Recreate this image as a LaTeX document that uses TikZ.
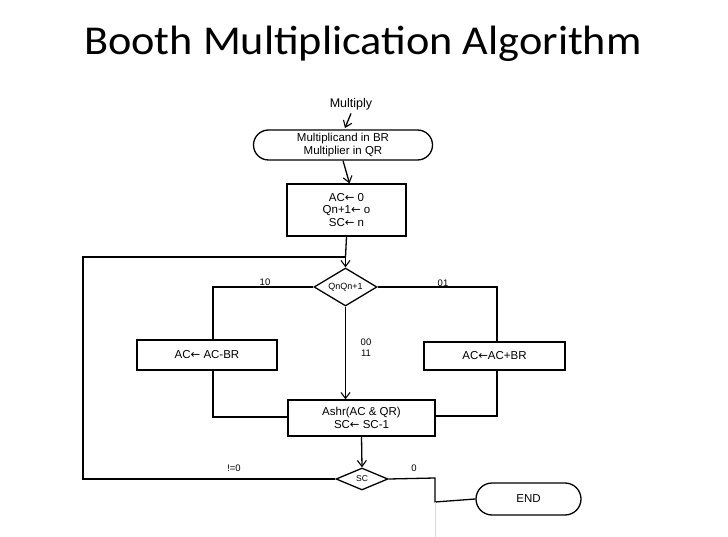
\documentclass[tikz,border=0pt]{standalone}
\usepackage{fontspec}
\usepackage{graphicx}
\setmainfont{Liberation Sans}
\newfontfamily\titlefont{Carlito}
\newfontfamily\arrfont{DejaVu Sans}
\newcommand{\larr}{{\arrfont ←}}
\usetikzlibrary{arrows.meta,shapes.geometric,shapes.misc}
\begin{document}
\begin{tikzpicture}[x=1pt,y=-1pt,
  line width=1.3pt,
  every node/.style={inner sep=0pt},
  box/.style={draw,rectangle,align=center,font=\fontsize{11.5}{12.5}\selectfont},
  term/.style={draw,rounded rectangle,align=center,font=\fontsize{11.5}{12.5}\selectfont},
  dec/.style={draw,diamond,aspect=1.7,font=\fontsize{9}{10}\selectfont},
  lbl/.style={font=\fontsize{9.5}{11}\selectfont,align=center},
  arr/.style={-{Straight Barb[length=6pt,width=9pt,line width=1.1pt]}}
]
\useasboundingbox (0,0) rectangle (728,537);
\fill[white] (0,0) rectangle (728,537);
\node[font=\titlefont\fontsize{41}{44}\selectfont] (title) at (363,44) {\scalebox{1.08}[1]{Booth Multiplication Algorithm}};
\node[font=\fontsize{12.5}{14}\selectfont] (mult) at (351,104) {Multiply};
\node[term,minimum width=179pt,minimum height=30pt] (init) at (343,145) {Multiplicand in BR\\Multiplier in QR};
\node[box,minimum width=119pt,minimum height=52pt] (setup) at (346.5,210) {AC\larr\ 0\\Qn+1\larr\ o\\SC\larr\ n};
\node[dec,minimum width=63pt,minimum height=38pt] (q) at (345.5,287) {QnQn+1};
\node[box,minimum width=140pt,minimum height=30pt] (sub) at (207,355) {AC\larr\ AC-BR};
\node[box,minimum width=141pt,minimum height=28pt] (add) at (494.5,356) {AC\larr AC+BR};
\node[box,minimum width=147pt,minimum height=36pt] (shr) at (361.5,418) {Ashr(AC \& QR)\\SC\larr\ SC-1};
\node[dec,minimum width=52pt,minimum height=22pt,font=\fontsize{8.5}{9}\selectfont] (sc) at (362,479) {SC};
\node[term,minimum width=105pt,minimum height=32pt] (end) at (528.5,499) {END};
\coordinate (loopL) at (83,479);
\coordinate (loopT) at (83,257);
\coordinate (qin) at (345.5,257);
\coordinate (lft) at (213,287);
\coordinate (rgt) at (497,287);
\coordinate (lbot) at (213,417);
\coordinate (rbot) at (497,416);
\coordinate (z1) at (435,478);
\coordinate (z2) at (435,502);
% connectors
\draw[arr] (mult.south) ++(0,3) -- (345,128);
\draw[arr] (init.south) -- ([xshift=3pt]setup.north);
\draw (setup.south) -- (qin);
\draw[arr] (qin) -- (q.north);
\draw (q.west) -- (lft) -- (sub.north -| lft);
\draw (q.east) -- (rgt) -- (add.north -| rgt);
\draw[arr] (q.south) -- (shr.north -| q.south);
\draw (sub.south -| lbot) -- (lbot) -- (shr.west |- lbot);
\draw (add.south -| rbot) -- (rbot) -- (shr.east |- rbot);
\draw[arr] (shr.south) -- (sc.north);
\draw (sc.west) -- (loopL) -- (loopT) -- (qin);
\draw (sc.east) -- (z1) -- (z2) -- (end.west);
\draw[line width=0.8pt,black!15] (z2) -- (435,537);
% labels
\node[lbl] (l10) at (265,282) {10};
\node[lbl] (l01) at (443,283) {01};
\node[lbl] (l00) at (366,348) {00\\11};
\node[lbl] (lne) at (234,468) {!=0};
\node[lbl] (l0) at (414,468) {0};
\end{tikzpicture}
\end{document}
